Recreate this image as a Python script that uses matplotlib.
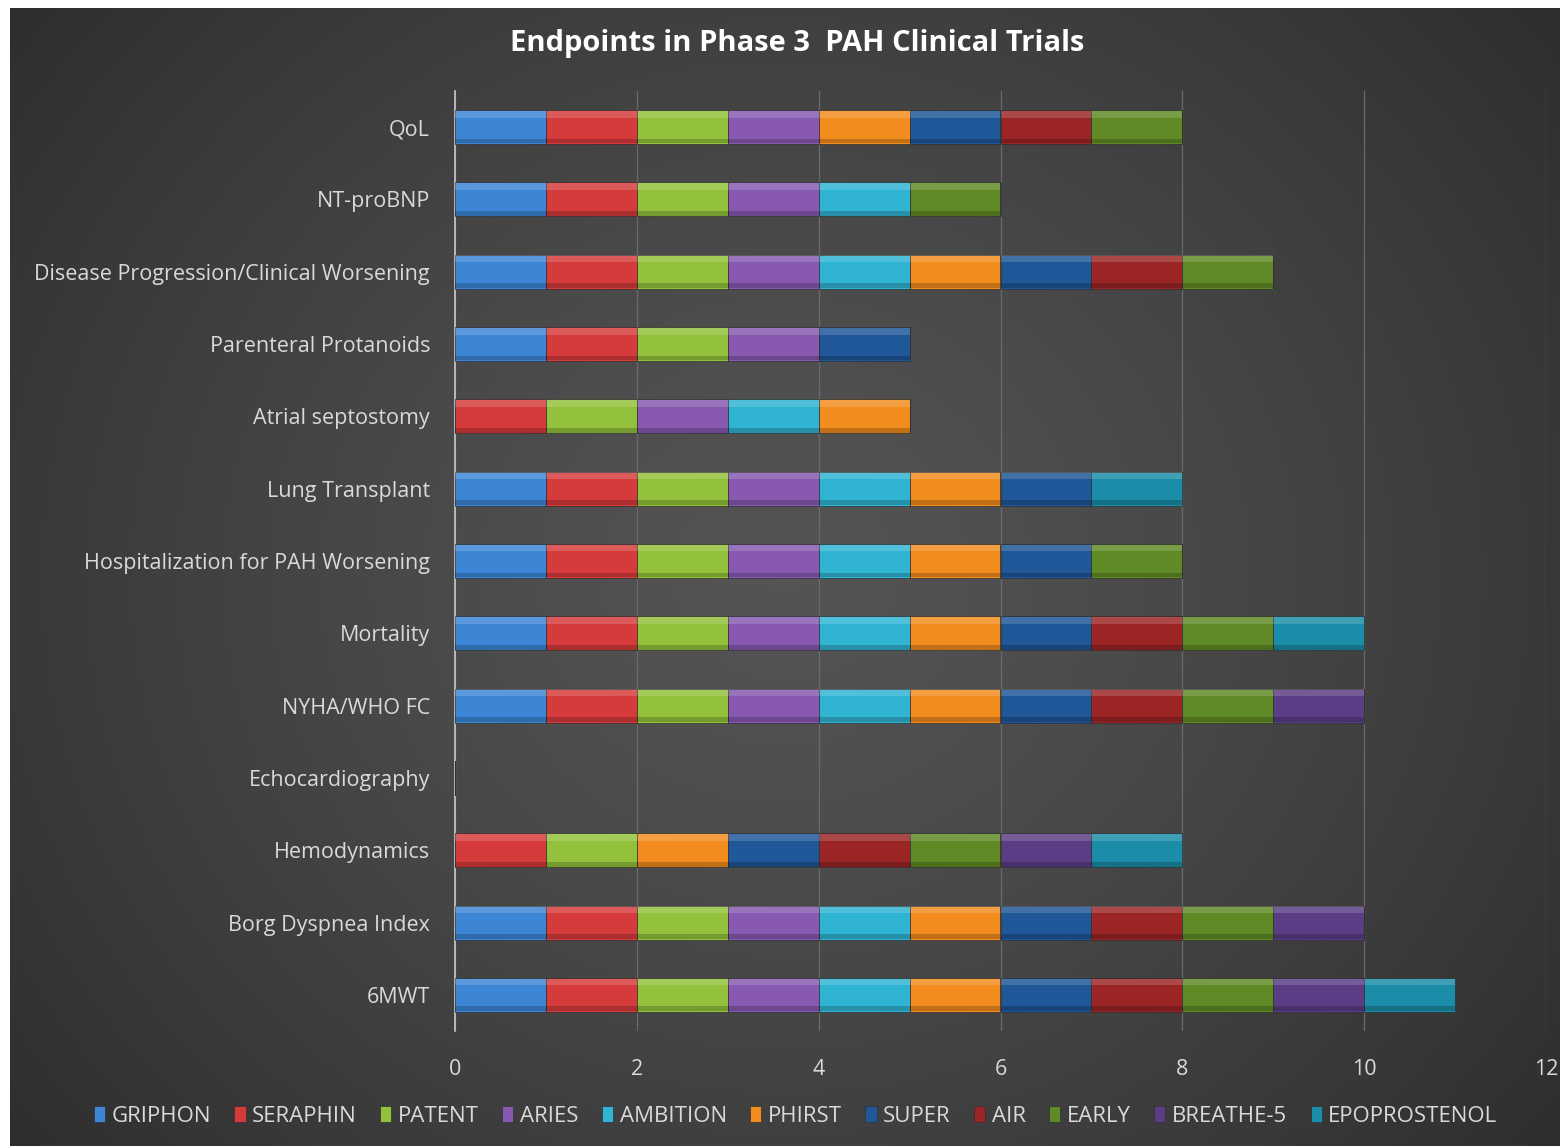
import numpy as np
import matplotlib.pyplot as plt

plt.rcParams['font.family'] = ['Open Sans', 'DejaVu Sans']

categories = ['6MWT', 'Borg Dyspnea Index', 'Hemodynamics', 'Echocardiography',
              'NYHA/WHO FC', 'Mortality', 'Hospitalization for PAH Worsening',
              'Lung Transplant', 'Atrial septostomy', 'Parenteral Protanoids',
              'Disease Progression/Clinical Worsening', 'NT-proBNP', 'QoL']

trials = ['GRIPHON', 'SERAPHIN', 'PATENT', 'ARIES', 'AMBITION', 'PHIRST',
          'SUPER', 'AIR', 'EARLY', 'BREATHE-5', 'EPOPROSTENOL']

griphon      = [1, 1, 0, 0, 1, 1, 1, 1, 0, 1, 1, 1, 1]
seraphin     = [1, 1, 1, 0, 1, 1, 1, 1, 1, 1, 1, 1, 1]
patent       = [1, 1, 1, 0, 1, 1, 1, 1, 1, 1, 1, 1, 1]
aries        = [1, 1, 0, 0, 1, 1, 1, 1, 1, 1, 1, 1, 1]
ambition     = [1, 1, 0, 0, 1, 1, 1, 1, 1, 0, 1, 1, 0]
phirst       = [1, 1, 1, 0, 1, 1, 1, 1, 1, 0, 1, 0, 1]
super_       = [1, 1, 1, 0, 1, 1, 1, 1, 0, 1, 1, 0, 1]
air          = [1, 1, 1, 0, 1, 1, 0, 0, 0, 0, 1, 0, 1]
early        = [1, 1, 1, 0, 1, 1, 1, 0, 0, 0, 1, 1, 1]
breathe5     = [1, 1, 1, 0, 1, 0, 0, 0, 0, 0, 0, 0, 0]
epoprostenol = [1, 0, 1, 0, 0, 1, 0, 1, 0, 0, 0, 0, 0]

series = [griphon, seraphin, patent, aries, ambition, phirst,
          super_, air, early, breathe5, epoprostenol]

colors = ['#3d86d6', '#d63b3b', '#93c13b', '#8759b1', '#2fb5d3', '#f28c1f',
          '#1f5798', '#9b2525', '#5f8a25', '#5b3d86', '#1b8da8']

fig = plt.figure(figsize=(15.6, 11.46), dpi=100, facecolor='white')

# dark radial background
bg = fig.add_axes([10 / 1560, 0, 1 - 10 / 1560, 1 - 8 / 1146])
yy, xx = np.mgrid[-1:1:600j, -1:1:800j]
r = np.sqrt(xx ** 2 + (0.8 * yy) ** 2) / np.sqrt(1.64)
shade = 0.33 - 0.15 * r ** 1.3
rgb = np.dstack([shade, shade, shade])
bg.imshow(rgb, aspect='auto', extent=[0, 1, 0, 1], interpolation='bilinear')
bg.axis('off')

ax = fig.add_axes([455 / 1560, 1 - 1031 / 1146, 1091 / 1560, 940 / 1146])
ax.set_facecolor('none')

y = np.arange(len(categories))
h = 0.47
left = np.zeros(len(categories))
for name, vals, c in zip(trials, series, colors):
    vals = np.array(vals, dtype=float)
    ax.barh(y, vals, left=left, height=h, color=c, edgecolor='#303030',
            linewidth=0.5, label=name, zorder=3)
    # bevel highlight / shadow
    ax.barh(y + h * 0.38, vals, left=left, height=h * 0.2, color='white',
            alpha=0.16, linewidth=0, zorder=4)
    ax.barh(y - h * 0.41, vals, left=left, height=h * 0.14, color='black',
            alpha=0.2, linewidth=0, zorder=4)
    left += vals

ax.set_xlim(0, 12)
ax.set_ylim(-0.5, len(categories) - 0.5)
ax.set_xticks(range(0, 13, 2))
ax.set_yticks(y)
ax.set_yticklabels(categories)
ax.tick_params(axis='both', colors='#d9d9d9', labelsize=15.5, length=0)
ax.tick_params(axis='x', pad=20)
ax.tick_params(axis='y', pad=18)
ax.grid(axis='x', color='#6a6a6a', linewidth=0.9, zorder=0)
for s in ['top', 'right', 'bottom']:
    ax.spines[s].set_visible(False)
ax.spines['left'].set_color('#c8c8c8')
ax.spines['left'].set_linewidth(1.2)

fig.text(0.511, 1 - 44 / 1146, 'Endpoints in Phase 3  PAH Clinical Trials',
         ha='center', va='center', color='white', fontsize=21, fontweight='bold')

fig.legend(loc='center', bbox_to_anchor=(0.51, 1 - 1116 / 1146), ncol=11,
           frameon=False, fontsize=16, labelcolor='#d9d9d9', handlelength=0.5,
           handleheight=0.7, handletextpad=0.3, columnspacing=1.05)

fig.savefig('out.png', dpi=100, facecolor='white')
